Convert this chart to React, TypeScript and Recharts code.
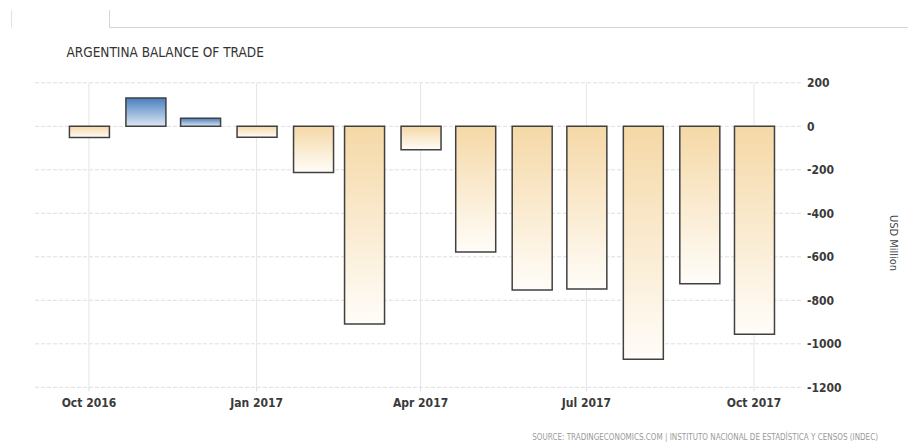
import React from 'react';
import { BarChart, Bar, Cell, XAxis, YAxis, CartesianGrid } from 'recharts';

// Monthly trade balance, USD million
const months = [
  '2016-10', '2016-11', '2016-12', '2017-01', '2017-02', '2017-03', '2017-04',
  '2017-05', '2017-06', '2017-07', '2017-08', '2017-09', '2017-10',
];
const balance = [-51, 130, 37, -50, -212, -909, -108, -578, -753, -748, -1071, -724, -956];

const xTickMonths = ['2016-10', '2017-01', '2017-04', '2017-07', '2017-10'];
const xTickLabels = ['Oct 2016', 'Jan 2017', 'Apr 2017', 'Jul 2017', 'Oct 2017'];
const yTicks = [200, 0, -200, -400, -600, -800, -1000, -1200];

const W = 908;
const H = 447;
const FONT = '"DejaVu Sans Condensed", "DejaVu Sans", sans-serif';

// month string -> days since epoch (time-based x axis)
const dayOf = (ym: string) => {
  const [y, m] = ym.split('-').map(Number);
  return Date.UTC(y, m - 1, 1) / 86400000;
};

const data = months.map((m, i) => ({ day: dayOf(m), value: balance[i] }));
const xTickDays = xTickMonths.map(dayOf);
const firstDay = dayOf(months[0]);
const lastDay = dayOf(months[months.length - 1]);
const xDomain = [firstDay - 29.6, lastDay + 25.8];

const formatXTick = (d: number) => {
  const i = xTickDays.indexOf(d);
  return i >= 0 ? xTickLabels[i] : '';
};

const tickStyle = { fontFamily: FONT, fontSize: 12, fontWeight: 700, fill: '#3a3a3a' };

export default function App() {
  return (
    <div style={{ position: 'absolute', left: 0, top: 0, width: W, height: H, background: '#fff', fontFamily: FONT }}>
      <BarChart
        width={W}
        height={H}
        data={data}
        margin={{ top: 82.8, right: 47, bottom: 29.7, left: 35 }}
      >
        <defs>
          <linearGradient id="tradeDeficit" x1="0" y1="0" x2="0" y2="1">
            <stop offset="0%" stopColor="#f5d8a6" />
            <stop offset="100%" stopColor="#fffdf9" />
          </linearGradient>
          <linearGradient id="tradeSurplus" x1="0" y1="0" x2="0" y2="1">
            <stop offset="0%" stopColor="#4a7fbe" />
            <stop offset="100%" stopColor="#dde8f4" />
          </linearGradient>
        </defs>
        <CartesianGrid vertical={false} stroke="#dedede" strokeDasharray="4 2" syncWithTicks />
        <CartesianGrid horizontal={false} stroke="#e6e6e6" syncWithTicks />
        <XAxis
          dataKey="day"
          type="number"
          domain={xDomain}
          allowDataOverflow
          ticks={xTickDays}
          tickFormatter={formatXTick}
          axisLine={false}
          tickLine={{ stroke: '#dedede' }}
          tickSize={4}
          tickMargin={7}
          height={30}
          tick={tickStyle}
        />
        <YAxis
          orientation="right"
          domain={[-1200, 200]}
          ticks={yTicks}
          interval={0}
          axisLine={false}
          tickLine={false}
          tickSize={0}
          tickMargin={6}
          width={60}
          tick={{ ...tickStyle, textAnchor: 'start' }}
        />
        <Bar
          dataKey="value"
          barSize={40}
          stroke="#404040"
          strokeWidth={1.5}
          isAnimationActive={false}
        >
          {data.map((d) => (
            <Cell key={d.day} fill={d.value >= 0 ? 'url(#tradeSurplus)' : 'url(#tradeDeficit)'} />
          ))}
        </Bar>
      </BarChart>
      <svg
        width={W}
        height={H}
        style={{ position: 'absolute', left: 0, top: 0, pointerEvents: 'none' }}
      >
        {/* page frame strokes above the chart */}
        <line x1={11.5} y1={10} x2={11.5} y2={27.5} stroke="#e2e2e2" />
        <line x1={109.5} y1={10} x2={109.5} y2={27.5} stroke="#d6d6d6" />
        <line x1={109.5} y1={27.5} x2={W} y2={27.5} stroke="#d6d6d6" />
        <text x={66.5} y={56.5} fontFamily={FONT} fontSize={13.5} fill="#333">
          ARGENTINA BALANCE OF TRADE
        </text>
        <text
          x={0}
          y={0}
          transform="translate(889.5 243) rotate(90)"
          textAnchor="middle"
          fontFamily={FONT}
          fontSize={11}
          fill="#444"
        >
          USD Million
        </text>
        <text x={878} y={440} textAnchor="end" fontFamily={FONT} fontSize={8} fill="#9a9a9a">
          SOURCE: TRADINGECONOMICS.COM | INSTITUTO NACIONAL DE ESTADÍSTICA Y CENSOS (INDEC)
        </text>
      </svg>
    </div>
  );
}
